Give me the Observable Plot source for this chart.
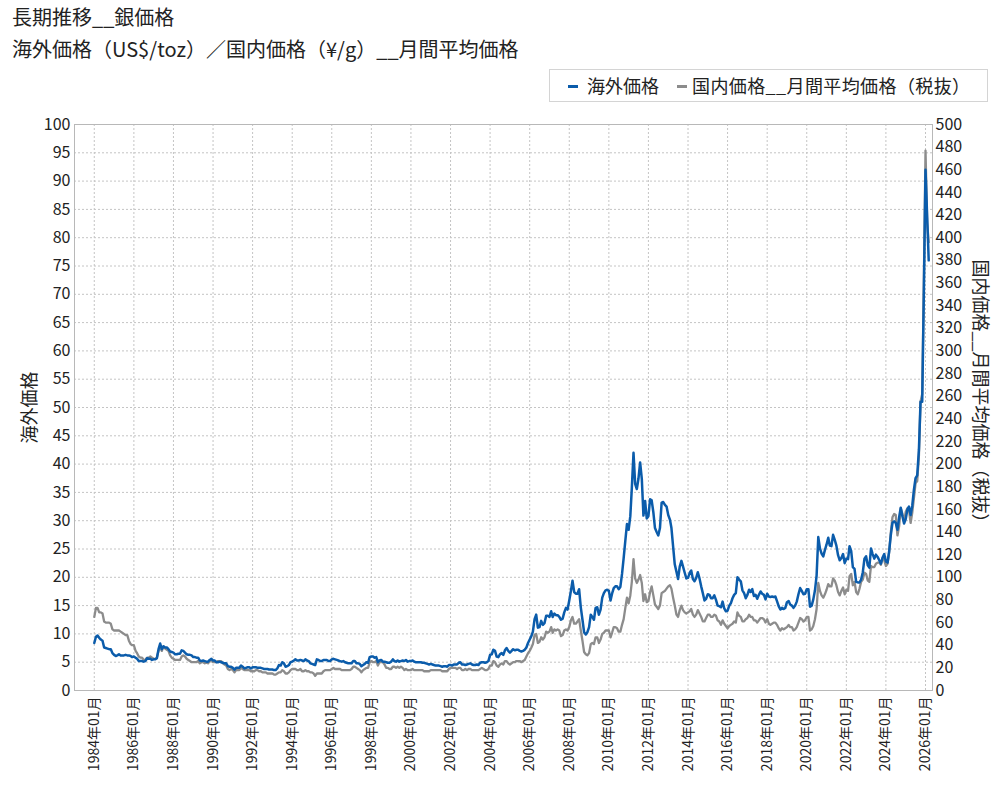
<!DOCTYPE html>
<html><head><meta charset="utf-8">
<script src="https://cdn.jsdelivr.net/npm/d3@7"></script>
<script src="https://cdn.jsdelivr.net/npm/@observablehq/plot@0.6"></script>
<style>
body{margin:0;background:#fff;font-family:'Noto Sans CJK JP',sans-serif;color:#222;}
#wrap{position:relative;width:1000px;height:787px;overflow:hidden;background:#fff}
#header{position:relative;height:110px}
.t{position:absolute;left:12px;font-size:20px;line-height:26px;white-space:nowrap}
#legend{position:absolute;left:549px;top:69px;width:439px;height:33px;border:1px solid #d4d4d4;box-sizing:border-box;font-size:18px;line-height:31px;white-space:nowrap}
.item{position:absolute;top:0}
.sw{position:absolute;top:15px;width:10px;height:3px}
#chart svg{display:block}
</style>
</head><body>
<div id="wrap">
  <div id="header">
    <div class="t" style="top:4px">長期推移__銀価格</div>
    <div class="t" style="top:36px">海外価格（US$/toz）／国内価格（¥/g）__月間平均価格</div>
    <div id="legend"></div>
  </div>
  <div id="chart"></div>
</div>
<script>
// Series names
const seriesNames = ["海外価格", "国内価格__月間平均価格（税抜）"];
const seriesColors = ["#0b5cab", "#8c8c8c"];
// Monthly values from 1984-01 onward
// 海外価格 (US$/toz)
const overseasUSD = [
/*1984*/ 8.4, 9.5, 9.7, 9.3, 9.0, 8.8, 7.6, 7.5, 7.4, 7.3, 7.3, 6.6,
/*1985*/ 6.3, 6.1, 6.2, 6.4, 6.2, 6.2, 6.2, 6.3, 6.2, 6.2, 6.1, 5.9,
/*1986*/ 6.0, 5.8, 5.6, 5.2, 5.2, 5.2, 5.1, 5.2, 5.7, 5.6, 5.6, 5.4,
/*1987*/ 5.5, 5.5, 5.7, 7.3, 8.3, 7.3, 7.8, 7.6, 7.6, 7.3, 6.9, 6.8,
/*1988*/ 6.7, 6.4, 6.4, 6.5, 6.5, 7.1, 7.0, 6.7, 6.4, 6.3, 6.3, 6.2,
/*1989*/ 5.9, 5.9, 5.8, 5.8, 5.3, 5.2, 5.3, 5.2, 5.1, 5.1, 5.4, 5.6,
/*1990*/ 5.3, 5.3, 5.0, 5.0, 5.1, 5.0, 4.9, 4.8, 4.8, 4.3, 4.2, 4.2,
/*1991*/ 4.0, 3.7, 4.0, 4.0, 4.0, 4.4, 4.2, 3.9, 4.0, 4.1, 4.1, 3.9,
/*1992*/ 4.1, 4.1, 4.1, 4.0, 4.0, 4.0, 3.9, 3.8, 3.8, 3.8, 3.7, 3.7,
/*1993*/ 3.7, 3.6, 3.6, 3.9, 4.5, 4.4, 5.0, 4.8, 4.2, 4.3, 4.5, 5.0,
/*1994*/ 5.1, 5.3, 5.5, 5.3, 5.3, 5.4, 5.3, 5.2, 5.5, 5.3, 5.2, 4.8,
/*1995*/ 4.7, 4.6, 4.5, 5.5, 5.4, 5.2, 5.2, 5.4, 5.4, 5.4, 5.2, 5.2,
/*1996*/ 5.5, 5.6, 5.5, 5.4, 5.3, 5.2, 5.1, 5.2, 5.0, 4.9, 4.8, 4.8,
/*1997*/ 4.8, 5.2, 5.2, 4.8, 4.8, 4.7, 4.3, 4.5, 4.7, 5.0, 4.9, 5.9,
/*1998*/ 6.0, 6.0, 5.8, 5.9, 5.0, 5.3, 5.4, 5.1, 5.1, 5.0, 4.9, 4.9,
/*1999*/ 5.1, 5.5, 5.2, 5.1, 5.3, 5.1, 5.2, 5.3, 5.2, 5.4, 5.1, 5.2,
/*2000*/ 5.2, 5.3, 5.1, 5.0, 5.0, 5.0, 5.0, 4.9, 4.9, 4.8, 4.7, 4.6,
/*2001*/ 4.7, 4.6, 4.5, 4.4, 4.4, 4.4, 4.3, 4.2, 4.3, 4.3, 4.2, 4.5,
/*2002*/ 4.5, 4.4, 4.6, 4.6, 4.6, 4.9, 5.0, 4.6, 4.6, 4.5, 4.6, 4.7,
/*2003*/ 4.8, 4.6, 4.5, 4.5, 4.6, 4.5, 4.9, 5.0, 5.0, 4.9, 5.0, 5.2,
/*2004*/ 6.3, 6.4, 7.2, 7.0, 6.0, 5.9, 6.4, 6.6, 6.3, 7.1, 7.5, 7.0,
/*2005*/ 6.7, 7.0, 7.3, 7.1, 7.2, 7.2, 7.0, 6.9, 7.0, 7.2, 7.6, 8.4,
/*2006*/ 9.0, 9.6, 10.4, 12.6, 13.4, 11.1, 11.2, 12.3, 11.6, 11.9, 13.2, 13.2,
/*2007*/ 13.0, 14.0, 13.0, 13.6, 13.3, 13.3, 13.0, 12.5, 12.7, 13.8, 14.6, 14.3,
/*2008*/ 15.9, 17.6, 19.4, 17.4, 17.1, 17.1, 17.9, 14.7, 12.5, 10.3, 9.9, 10.3,
/*2009*/ 11.2, 13.4, 13.0, 12.5, 14.6, 14.7, 13.4, 14.3, 16.4, 17.2, 17.7, 17.8,
/*2010*/ 17.6, 15.9, 17.1, 18.1, 18.4, 18.4, 17.9, 18.3, 20.6, 23.4, 26.5, 29.4,
/*2011*/ 28.4, 30.8, 35.8, 42.0, 36.5, 35.6, 37.4, 40.3, 37.4, 30.9, 33.5, 30.4,
/*2012*/ 30.8, 33.8, 33.6, 31.5, 28.7, 28.0, 27.4, 28.7, 33.2, 33.3, 32.8, 32.5,
/*2013*/ 31.0, 30.2, 28.7, 25.4, 22.3, 21.0, 19.7, 21.9, 22.9, 21.9, 20.8, 19.8,
/*2014*/ 19.9, 20.8, 21.2, 19.7, 19.3, 19.9, 20.9, 19.8, 18.4, 17.2, 15.9, 16.2,
/*2015*/ 17.0, 16.9, 16.3, 16.3, 16.8, 16.0, 15.0, 14.9, 14.7, 15.7, 14.5, 14.0,
/*2016*/ 14.1, 15.0, 15.4, 16.3, 16.9, 17.2, 20.0, 19.6, 19.3, 17.7, 17.2, 16.3,
/*2017*/ 16.9, 17.8, 17.4, 17.9, 16.7, 16.9, 16.2, 16.9, 17.5, 17.1, 16.9, 16.1,
/*2018*/ 17.1, 16.6, 16.5, 16.6, 16.5, 16.6, 15.8, 14.9, 14.3, 14.6, 14.4, 14.6,
/*2019*/ 15.6, 15.8, 15.2, 15.0, 14.6, 15.0, 15.7, 17.0, 18.1, 17.6, 17.0, 17.1,
/*2020*/ 17.9, 17.9, 14.8, 15.0, 16.1, 17.7, 20.3, 27.1, 25.1, 24.2, 23.7, 24.8,
/*2021*/ 25.8, 27.0, 25.6, 25.5, 27.5, 26.6, 25.6, 23.9, 23.0, 23.4, 24.1, 22.5,
/*2022*/ 23.3, 23.2, 25.5, 24.6, 21.8, 21.5, 19.2, 19.1, 19.1, 19.6, 20.9, 23.3,
/*2023*/ 23.7, 22.1, 21.7, 25.1, 24.1, 23.3, 24.0, 23.6, 23.0, 22.4, 23.5, 24.1,
/*2024*/ 22.8, 22.6, 24.6, 27.5, 29.6, 29.9, 29.6, 28.4, 30.6, 32.3, 30.8, 29.5,
/*2025*/ 30.3, 32.0, 32.5, 31.0, 32.6, 35.5, 37.5, 38.0, 42.5, 51.0, 51.0, 70.0,
/*2026*/ 92.0, 83.5, 76.0
];
// 国内価格 (¥/g, 税抜)
const domesticJPY = [
/*1984*/ 65, 73, 73, 69, 69, 68, 61, 60, 60, 60, 59, 54,
/*1985*/ 53, 53, 53, 53, 52, 51, 50, 49, 49, 44, 41, 40,
/*1986*/ 40, 35, 33, 30, 29, 29, 27, 27, 29, 29, 30, 29,
/*1987*/ 28, 28, 29, 35, 38, 35, 39, 37, 36, 35, 31, 29,
/*1988*/ 28, 27, 27, 27, 27, 30, 31, 30, 28, 27, 26, 25,
/*1989*/ 25, 25, 25, 26, 24, 25, 25, 24, 25, 24, 26, 27,
/*1990*/ 25, 25, 25, 26, 26, 26, 24, 23, 22, 19, 18, 19,
/*1991*/ 18, 16, 18, 18, 18, 20, 19, 18, 18, 18, 18, 17,
/*1992*/ 17, 17, 18, 18, 17, 17, 16, 16, 16, 15, 15, 15,
/*1993*/ 15, 14, 14, 15, 16, 16, 18, 17, 15, 15, 16, 18,
/*1994*/ 19, 19, 19, 18, 18, 19, 17, 17, 18, 17, 17, 16,
/*1995*/ 16, 15, 13, 15, 15, 15, 15, 17, 18, 18, 18, 18,
/*1996*/ 19, 20, 19, 19, 19, 19, 18, 18, 18, 18, 18, 18,
/*1997*/ 19, 21, 21, 20, 19, 18, 16, 18, 19, 20, 20, 25,
/*1998*/ 26, 25, 25, 26, 22, 25, 25, 25, 23, 20, 20, 19,
/*1999*/ 19, 21, 21, 20, 21, 20, 21, 20, 18, 19, 18, 18,
/*2000*/ 18, 19, 18, 18, 18, 18, 18, 18, 17, 17, 17, 17,
/*2001*/ 18, 18, 18, 18, 18, 18, 18, 17, 17, 17, 17, 19,
/*2002*/ 20, 20, 20, 20, 19, 20, 20, 18, 18, 19, 18, 19,
/*2003*/ 19, 18, 18, 18, 18, 18, 19, 20, 19, 18, 18, 19,
/*2004*/ 22, 22, 26, 25, 22, 21, 23, 24, 23, 26, 26, 24,
/*2005*/ 23, 24, 25, 25, 26, 26, 26, 25, 26, 27, 30, 33,
/*2006*/ 35, 38, 41, 49, 50, 42, 43, 47, 45, 47, 52, 51,
/*2007*/ 52, 56, 51, 54, 53, 54, 53, 48, 49, 53, 54, 53,
/*2008*/ 56, 62, 65, 59, 59, 61, 63, 53, 44, 34, 32, 31,
/*2009*/ 33, 41, 42, 41, 47, 47, 42, 45, 50, 51, 53, 53,
/*2010*/ 53, 47, 51, 56, 56, 55, 52, 52, 58, 63, 73, 82,
/*2011*/ 77, 84, 96, 116, 99, 95, 98, 102, 95, 79, 85, 78,
/*2012*/ 79, 87, 92, 84, 76, 74, 72, 75, 86, 87, 88, 90,
/*2013*/ 92, 93, 90, 82, 75, 67, 65, 71, 75, 71, 69, 68,
/*2014*/ 69, 70, 72, 67, 65, 67, 71, 68, 65, 61, 61, 64,
/*2015*/ 67, 67, 65, 65, 67, 66, 62, 61, 58, 62, 59, 57,
/*2016*/ 55, 57, 58, 59, 61, 60, 69, 66, 65, 61, 61, 63,
/*2017*/ 64, 67, 65, 65, 62, 62, 60, 62, 64, 64, 63, 60,
/*2018*/ 63, 59, 58, 59, 60, 60, 58, 55, 53, 55, 54, 55,
/*2019*/ 56, 58, 56, 56, 53, 54, 56, 60, 64, 63, 61, 62,
/*2020*/ 65, 65, 53, 54, 57, 63, 72, 95, 88, 84, 82, 85,
/*2021*/ 89, 94, 92, 92, 99, 97, 93, 87, 84, 88, 91, 85,
/*2022*/ 89, 88, 101, 103, 93, 96, 87, 85, 90, 96, 98, 104,
/*2023*/ 103, 97, 96, 110, 109, 109, 112, 113, 113, 111, 117, 115,
/*2024*/ 110, 112, 122, 140, 153, 156, 155, 137, 145, 161, 156, 149,
/*2025*/ 158, 161, 160, 148, 157, 170, 183, 185, 207, 255, 262, 361,
/*2026*/ 477, 413, 396
];
// Tick labels
const xTickYears = [1984,1986,1988,1990,1992,1994,1996,1998,2000,2002,2004,2006,2008,2010,2012,2014,2016,2018,2020,2022,2024,2026];
const yLeftTicks = [0,5,10,15,20,25,30,35,40,45,50,55,60,65,70,75,80,85,90,95,100];
const yRightTicks = [0,20,40,60,80,100,120,140,160,180,200,220,240,260,280,300,320,340,360,380,400,420,440,460,480,500];
const axisTitleLeft = "海外価格";
const axisTitleRight = "国内価格__月間平均価格（税抜）";

// legend
const legend = document.getElementById("legend");
legend.innerHTML =
  `<span class="sw" style="left:18px;background:${seriesColors[0]}"></span><span class="item" style="left:37px">${seriesNames[0]}</span>` +
  `<span class="sw" style="left:127px;background:${seriesColors[1]}"></span><span class="item" style="left:142px;letter-spacing:0.4px">${seriesNames[1]}</span>`;

const RATIO = 5; // right axis (¥/g) = 5 × left axis units
const rows = overseasUSD.map((v, i) => ({date: new Date(Date.UTC(1984, i, 1)), usd: v, jpy: domesticJPY[i]}));
const xTickDates = xTickYears.map(y => new Date(Date.UTC(y, 0, 1)));

const chart = Plot.plot({
  width: 1000, height: 677,
  marginTop: 14, marginBottom: 97, marginLeft: 74, marginRight: 68,
  style: {fontFamily: "'Noto Sans CJK JP', sans-serif", fontSize: "16px", color: "#222", background: "#fff", overflow: "visible"},
  x: {type: "utc", domain: [new Date(Date.UTC(1983, 0, 1)), new Date(Date.UTC(2026, 4, 10))]},
  y: {domain: [0, 100]},
  marks: [
    Plot.gridX(xTickDates, {stroke: "#c4c4c4", strokeOpacity: 1, strokeDasharray: "2,2"}),
    Plot.gridY(yLeftTicks, {stroke: "#c4c4c4", strokeOpacity: 1, strokeDasharray: "2,2"}),
    Plot.frame({stroke: "#b8b8b8"}),
    Plot.axisY(yLeftTicks, {anchor: "left", tickSize: 0, tickPadding: 4, label: null, fontSize: 16}),
    Plot.axisY(yRightTicks.map(v => v / RATIO), {anchor: "right", tickSize: 0, tickPadding: 3, label: null, fontSize: 16, tickFormat: d => String(Math.round(d * RATIO))}),
    Plot.axisX(xTickDates, {anchor: "bottom", tickSize: 0, tickPadding: 6, tickRotate: -90, label: null, fontSize: 14, tickFormat: d => `${d.getUTCFullYear()}年01月`}),
    Plot.lineY(rows, {x: "date", y: d => d.jpy / RATIO, stroke: seriesColors[1], strokeWidth: 2.3}),
    Plot.lineY(rows, {x: "date", y: "usd", stroke: seriesColors[0], strokeWidth: 2.5}),
    Plot.text([axisTitleLeft], {text: d => d, frameAnchor: "left", textAnchor: "middle", dx: -44, rotate: -90, fontSize: 18, fill: "#222"}),
    Plot.text([axisTitleRight], {text: d => d, frameAnchor: "right", textAnchor: "middle", dx: 47, dy: -12, rotate: 90, fontSize: 18, fill: "#222"})
  ]
});
document.getElementById("chart").appendChild(chart);
</script>
</body></html>
